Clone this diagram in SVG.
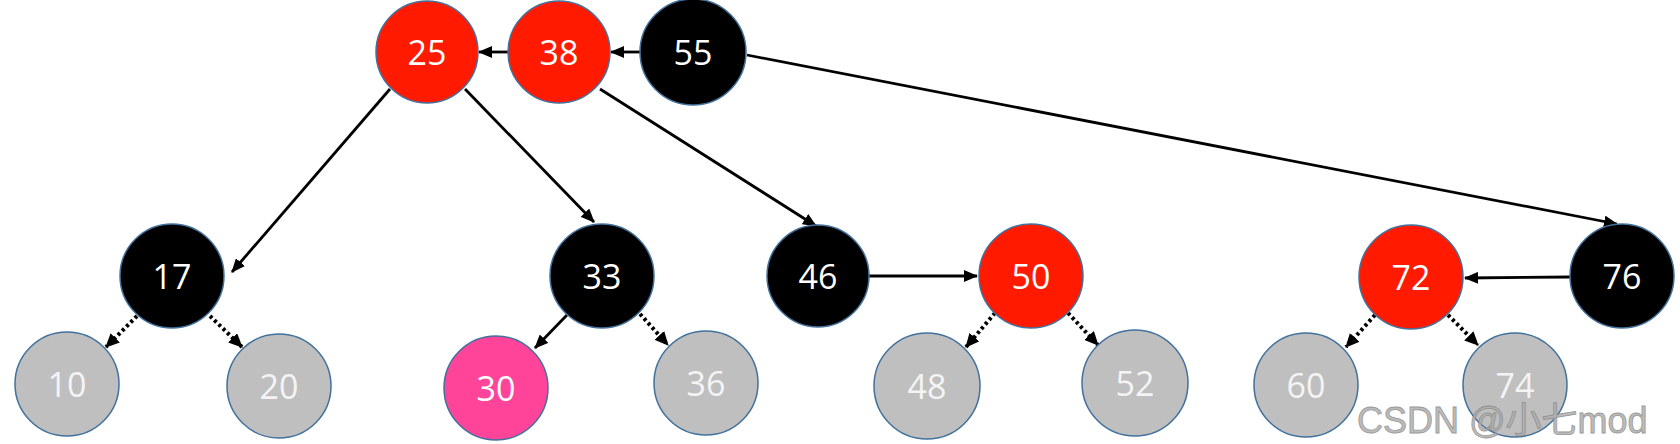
<svg xmlns="http://www.w3.org/2000/svg" width="1680" height="444" viewBox="0 0 1680 444">
<style>
.n{stroke:#41719c;stroke-width:1.5}
.red{fill:#ff1a00}
.blk{fill:#000}
.gry{fill:#bfbfbf}
.pnk{fill:#ff4499}
.t{font-family:"Open Sans","Liberation Sans",sans-serif;font-size:34px;text-anchor:middle;dominant-baseline:central;fill:#fff}
.tg{fill:#f4f4f4}
.e{stroke:#000;stroke-width:2.8;fill:none;marker-end:url(#ah)}
.d{stroke:#000;stroke-width:4;stroke-dasharray:3 3;fill:none;marker-end:url(#ah2)}
.wm{font-family:"Liberation Sans","Noto Sans CJK SC",sans-serif;font-size:36px;fill:#b0b0b0;stroke:#888;stroke-width:0.8;opacity:0.85}
</style>
<defs>
<marker id="ah" markerWidth="14" markerHeight="12" refX="13" refY="6" orient="auto" markerUnits="userSpaceOnUse"><path d="M0,0 L14,6 L0,12 Z" fill="#000"/></marker>
<marker id="ah2" markerWidth="14" markerHeight="13" refX="13" refY="6.5" orient="auto" markerUnits="userSpaceOnUse"><path d="M0,0 L14,6.5 L0,13 Z" fill="#000"/></marker>
</defs>
<rect width="1680" height="444" fill="#fff"/>
<g id="connectors">
<line class="e" x1="508" y1="52" x2="479" y2="52"/>
<line class="e" x1="640" y1="52" x2="611" y2="52"/>
<line class="e" x1="747" y1="55" x2="1617" y2="224"/>
<line class="e" x1="390" y1="89" x2="232" y2="272"/>
<line class="e" x1="465" y1="89" x2="594" y2="222"/>
<line class="e" x1="600" y1="89" x2="816" y2="226"/>
<line class="e" x1="869" y1="276" x2="977" y2="276"/>
<line class="e" x1="1570" y1="277" x2="1465" y2="278"/>
<line class="d" x1="137" y1="316" x2="106" y2="347"/>
<line class="d" x1="210" y1="316" x2="242" y2="347"/>
<line class="e" x1="567" y1="315" x2="535" y2="348"/>
<line class="d" x1="640" y1="314" x2="668" y2="345"/>
<line class="d" x1="995" y1="313" x2="966" y2="347"/>
<line class="d" x1="1068" y1="313" x2="1098" y2="345"/>
<line class="d" x1="1375" y1="315" x2="1346" y2="347"/>
<line class="d" x1="1448" y1="315" x2="1478" y2="345"/>
</g>
<g id="n25"><circle class="n red" cx="427" cy="52" r="51"/><text class="t" x="427" y="52">25</text></g>
<g id="n38"><circle class="n red" cx="559" cy="52" r="51"/><text class="t" x="559" y="52">38</text></g>
<g id="n55"><circle class="n blk" cx="693" cy="52" r="53"/><text class="t" x="693" y="52">55</text></g>
<g id="n17"><circle class="n blk" cx="172" cy="276" r="52"/><text class="t" x="172" y="276">17</text></g>
<g id="n33"><circle class="n blk" cx="602" cy="276" r="52"/><text class="t" x="602" y="276">33</text></g>
<g id="n46"><circle class="n blk" cx="818" cy="276" r="51"/><text class="t" x="818" y="276">46</text></g>
<g id="n50"><circle class="n red" cx="1031" cy="276" r="52"/><text class="t" x="1031" y="276">50</text></g>
<g id="n72"><circle class="n red" cx="1411" cy="277" r="52"/><text class="t" x="1411" y="277">72</text></g>
<g id="n76"><circle class="n blk" cx="1622" cy="276" r="52"/><text class="t" x="1622" y="276">76</text></g>
<g id="n10"><circle class="n gry" cx="67" cy="384" r="52"/><text class="t tg" x="67" y="384">10</text></g>
<g id="n20"><circle class="n gry" cx="279" cy="386" r="52"/><text class="t tg" x="279" y="386">20</text></g>
<g id="n30"><circle class="n pnk" cx="496" cy="388" r="52"/><text class="t" x="496" y="388">30</text></g>
<g id="n36"><circle class="n gry" cx="706" cy="383" r="52"/><text class="t tg" x="706" y="383">36</text></g>
<g id="n48"><circle class="n gry" cx="927" cy="386" r="53"/><text class="t tg" x="927" y="386">48</text></g>
<g id="n52"><circle class="n gry" cx="1135" cy="383" r="53"/><text class="t tg" x="1135" y="383">52</text></g>
<g id="n60"><circle class="n gry" cx="1306" cy="385" r="52"/><text class="t tg" x="1306" y="385">60</text></g>
<g id="n74"><circle class="n gry" cx="1515" cy="385" r="52"/><text class="t tg" x="1515" y="385">74</text></g>
<text class="wm" x="1357" y="433">CSDN @小七mod</text>
</svg>
